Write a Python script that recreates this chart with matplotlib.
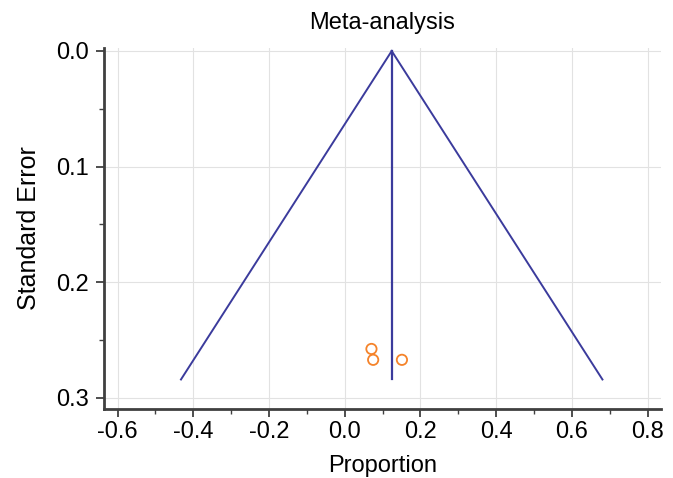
import numpy as np
import matplotlib.pyplot as plt
from matplotlib.ticker import MultipleLocator

# study estimates (proportion) and their standard errors
proportion = [0.0705, 0.075, 0.151]
std_error = [0.2576, 0.267, 0.267]

# pooled estimate and largest standard error for the funnel
pooled = 0.124
se_max = 0.284

plt.rcParams['font.family'] = ['Liberation Sans', 'DejaVu Sans']

fig = plt.figure(figsize=(6.73, 4.78), dpi=100)
ax = fig.add_axes([0.1545, 0.1444, 0.8275, 0.7552])

line_col = '#3b3b9c'
se = np.array([0.0, se_max])
ax.plot(pooled - 1.96 * se, se, color=line_col, lw=1.4)
ax.plot(pooled + 1.96 * se, se, color=line_col, lw=1.4)
ax.plot([pooled, pooled], se, color=line_col, lw=1.6)

ax.scatter(proportion, std_error, s=55, facecolors='none',
           edgecolors='#f5832a', linewidths=1.3, zorder=3)

ax.set_xlim(-0.636, 0.835)
ax.set_ylim(0.3095, -0.0026)
ax.xaxis.set_minor_locator(MultipleLocator(0.1))
ax.yaxis.set_minor_locator(MultipleLocator(0.05))
ax.set_xticks(np.arange(-0.6, 0.81, 0.2))
ax.set_yticks([0.0, 0.1, 0.2, 0.3])
ax.set_xticklabels(['-0.6', '-0.4', '-0.2', '0.0', '0.2', '0.4', '0.6', '0.8'])
ax.set_yticklabels(['0.0', '0.1', '0.2', '0.3'])

ax.grid(True, which='major', color='#e2e2e2', lw=0.8)
ax.set_axisbelow(True)

for s in ['top', 'right']:
    ax.spines[s].set_visible(False)
for s in ['left', 'bottom']:
    ax.spines[s].set_color('#404040')
    ax.spines[s].set_linewidth(2)

ax.tick_params(which='major', length=6, width=1.3, color='#404040',
               labelsize=17, pad=3)
ax.tick_params(axis='y', which='major', pad=5)
ax.tick_params(which='minor', length=3.5, width=1.0, color='#404040')

ax.set_title('Meta-analysis', fontsize=17, pad=14)
ax.set_xlabel('Proportion', fontsize=17, labelpad=8)
ax.set_ylabel('Standard Error', fontsize=18, labelpad=11)

fig.savefig('out.png', dpi=100)
